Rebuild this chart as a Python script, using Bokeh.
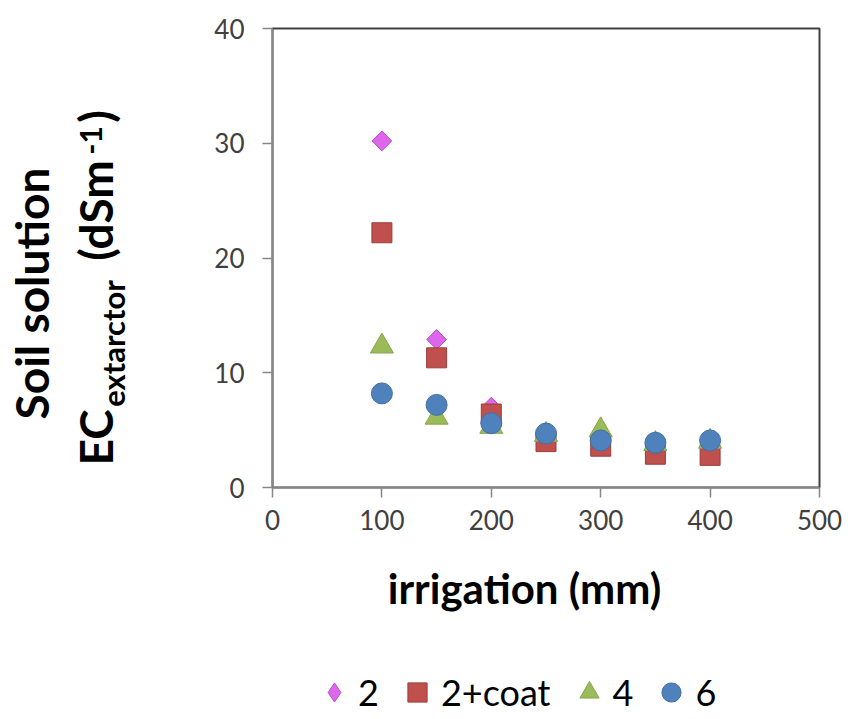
import math
from bokeh.plotting import figure
from bokeh.layouts import column, row
from bokeh.models import Range1d, FixedTicker, Label, Legend, LegendItem
from bokeh.embed import file_html
from bokeh.resources import INLINE

# ---- data ----
irrigation = [100, 150, 200, 250, 300, 350, 400]
ec_2 = [30.2, 12.9, 7.0, 4.3, 4.0, 3.4, 3.5]
ec_2coat = [22.2, 11.3, 6.4, 4.0, 3.6, 2.9, 2.8]
ec_4 = [12.3, 6.1, 5.3, 4.6, 5.0, 3.8, 4.0]
ec_6 = [8.2, 7.2, 5.6, 4.7, 4.1, 3.9, 4.1]
series_labels = ["2", "2+coat", "4", "6"]
x_ticks = [0, 100, 200, 300, 400, 500]
y_ticks = [0, 10, 20, 30, 40]

colors = {"d": ("#DE66EC", "#B552C2"), "s": ("#C0504D", "#9C3D3A"),
          "t": ("#9BBB59", "#86A64A"), "c": ("#4F81BD", "#41709F")}

W, H = 848, 719
LEFT_W = 140          # width of the y-title strip
TOP_H = 548           # height of the upper row
MAIN_W = W - LEFT_W
LEG_H = H - TOP_H
F_TOP, F_BOT = 28, 487   # frame top / bottom in page pixels

# ---- main chart ----
p = figure(width=MAIN_W, height=TOP_H, x_range=Range1d(0, 500), y_range=Range1d(0, 40),
           output_backend="svg", toolbar_location=None,
           min_border_left=132, min_border_right=29, min_border_top=F_TOP,
           min_border_bottom=TOP_H - F_BOT)
p.grid.visible = False
p.outline_line_color = "#404040"
p.outline_line_width = 2

for ax, ticks in ((p.xaxis, x_ticks), (p.yaxis, y_ticks)):
    ax.ticker = FixedTicker(ticks=ticks)
    ax.axis_line_color = "#868686"
    ax.axis_line_width = 1.5
    ax.major_tick_line_color = "#868686"
    ax.major_tick_line_width = 1.5
    ax.major_tick_out = 10
    ax.major_tick_in = 0
    ax.minor_tick_line_color = None
    ax.major_label_text_font = "Lato"
    ax.major_label_text_font_size = "26px"
    ax.major_label_text_color = "#404040"
p.xaxis.major_label_standoff = 12
p.yaxis.major_label_standoff = 18

p.scatter(irrigation, ec_2, marker="square", angle=math.pi / 4, size=14,
          fill_color=colors["d"][0], line_color=colors["d"][1], line_width=1)
p.scatter(irrigation, ec_2coat, marker="square", size=20,
          fill_color=colors["s"][0], line_color=colors["s"][1], line_width=1)
p.scatter(irrigation, ec_4, marker="triangle", size=23,
          fill_color=colors["t"][0], line_color=colors["t"][1], line_width=1)
p.scatter(irrigation, ec_6, marker="circle", size=21,
          fill_color=colors["c"][0], line_color=colors["c"][1], line_width=1)


def blank(w, h, y0, y1):
    f = figure(width=w, height=h, x_range=Range1d(0, w), y_range=Range1d(y0, y1),
               output_backend="svg", toolbar_location=None,
               min_border=0, x_axis_type=None, y_axis_type=None)
    f.grid.visible = False
    f.outline_line_color = None
    return f


# ---- y-axis title strip (its frame is aligned with the chart frame; y in page px) ----
yt = blank(LEFT_W, TOP_H, F_BOT, F_TOP)


def lab(fig, text, px, py, size, angle=math.pi / 2, align="center", baseline="middle"):
    fig.add_layout(Label(x=px, y=py, text=text, angle=angle,
                         text_font="Lato", text_font_size=size, text_font_style="bold",
                         text_color="black", text_align=align,
                         text_baseline=baseline))


lab(yt, "Soil solution", 31, 293, "46px")
lab(yt, "EC", 95, 437, "46px")
lab(yt, "extarctor", 112, 343, "31px")
lab(yt, "(dSm", 95, 210, "46px")
lab(yt, "-1", 90, 140, "30px")
lab(yt, ")", 95, 116, "46px")

# ---- x-title + legend strip (y in px from the strip top, downwards) ----
lf = blank(W, LEG_H, LEG_H, 0)
lab(lf, "irrigation (mm)", 524, 587 - TOP_H, "42px", angle=0.0, baseline="alphabetic")
items = []
for lbl, mk, key, ys in zip(series_labels, ["diamond", "square", "triangle", "circle"], "dstc",
                            [ec_2, ec_2coat, ec_4, ec_6]):
    r = lf.scatter(irrigation, ys, marker=mk, size=14, visible=False,
                   fill_color=colors[key][0], line_color=colors[key][1], line_width=1)
    items.append(LegendItem(label=lbl, renderers=[r]))
legend = Legend(items=items, orientation="horizontal", location=(310, 3),
                glyph_width=48, glyph_height=48, label_standoff=0, spacing=14,
                padding=0, margin=0, border_line_color=None,
                background_fill_alpha=0, inactive_fill_alpha=0,
                label_text_font="Lato",
                label_text_font_size="36px", label_text_color="black")
lf.add_layout(legend)

layout = column(row(yt, p, spacing=0), lf, spacing=0)
open("out.html", "w").write(file_html(layout, INLINE))
